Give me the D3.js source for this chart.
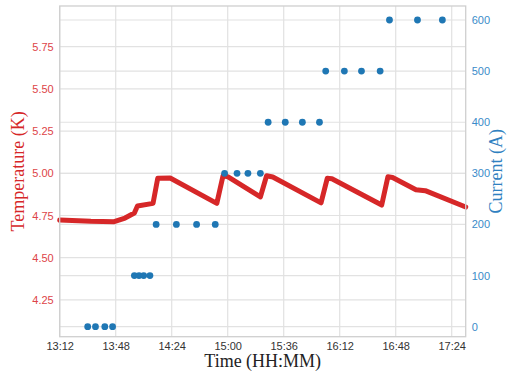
<!DOCTYPE html>
<html>
<head>
<meta charset="utf-8">
<script src="https://cdn.jsdelivr.net/npm/d3@7"></script>
<style>
  body { margin: 0; background: #fff; }
  .tick text { font-family: "Liberation Sans", Arial, sans-serif; font-size: 11px; }
</style>
</head>
<body>
<div id="chart"></div>
<script>
// temperature trace (time, kelvin)
var tempTimes = ["13:12", "13:20", "13:32", "13:47", "13:54", "14:00", "14:02", "14:12", "14:15", "14:23",
                 "14:53", "14:57", "15:00", "15:21", "15:25", "15:29", "16:00", "16:04", "16:07", "16:39",
                 "16:43", "16:46", "17:01", "17:07", "17:33"];
var tempValues = [4.723, 4.721, 4.716, 4.713, 4.735, 4.765, 4.806, 4.822, 4.970, 4.972,
                  4.822, 4.985, 4.980, 4.860, 4.985, 4.978, 4.825, 4.970, 4.968, 4.812,
                  4.980, 4.975, 4.902, 4.897, 4.800];

// current steps (time, amps)
var currentTimes = ["13:30", "13:35", "13:41", "13:46",
                    "14:00", "14:03", "14:06", "14:10",
                    "14:14", "14:27", "14:40", "14:52",
                    "14:58", "15:06", "15:13", "15:21",
                    "15:26", "15:37", "15:48", "15:59",
                    "16:03", "16:15", "16:26", "16:38",
                    "16:44", "17:02", "17:18"];
var currentValues = [0, 0, 0, 0,
                     100, 100, 100, 100,
                     200, 200, 200, 200,
                     300, 300, 300, 300,
                     400, 400, 400, 400,
                     500, 500, 500, 500,
                     600, 600, 600];

var timeTicks = ["13:12", "13:48", "14:24", "15:00", "15:36", "16:12", "16:48", "17:24"];
var tempTicks = [4.25, 4.50, 4.75, 5.00, 5.25, 5.50, 5.75];
var currentTicks = [0, 100, 200, 300, 400, 500, 600];

var parse = d3.timeParse("%H:%M"),
    fmt = d3.timeFormat("%H:%M");

var width = 507,
    height = 373,
    margin = {top: 6, right: 41.3, bottom: 36.3, left: 59.7},
    w = width - margin.left - margin.right,
    h = height - margin.top - margin.bottom;

var red = "#d62728",
    blue = "#1f77b4";

var x = d3.scaleTime()
    .domain([parse("13:12"), parse("17:33")])
    .range([0, w]);

var yT = d3.scaleLinear()
    .domain([4.032, 5.991])
    .range([h, 0]);

var yC = d3.scaleLinear()
    .domain([-19.6, 627.4])
    .range([h, 0]);

var svg = d3.select("#chart").append("svg")
    .attr("width", width)
    .attr("height", height);

var g = svg.append("g")
    .attr("transform", "translate(" + margin.left + "," + margin.top + ")");

// grid lines for both y axes and the time axis
g.append("g")
    .selectAll("line")
    .data(tempTicks)
    .enter().append("line")
    .attr("x1", 0).attr("x2", w)
    .attr("y1", function(d) { return yT(d); })
    .attr("y2", function(d) { return yT(d); })
    .attr("stroke", "#e2e2e2").attr("stroke-width", 1.2);

g.append("g")
    .selectAll("line")
    .data(currentTicks)
    .enter().append("line")
    .attr("x1", 0).attr("x2", w)
    .attr("y1", function(d) { return yC(d); })
    .attr("y2", function(d) { return yC(d); })
    .attr("stroke", "#e2e2e2").attr("stroke-width", 1.2);

g.append("g")
    .selectAll("line")
    .data(timeTicks.map(parse))
    .enter().append("line")
    .attr("y1", 0).attr("y2", h)
    .attr("x1", function(d) { return x(d); })
    .attr("x2", function(d) { return x(d); })
    .attr("stroke", "#e2e2e2").attr("stroke-width", 1.2);

// axes (no tick marks, just labels)
var xAxis = g.append("g")
    .attr("transform", "translate(0," + h + ")")
    .call(d3.axisBottom(x).tickValues(timeTicks.map(parse)).tickFormat(fmt).tickSize(0).tickPadding(6));
xAxis.select(".domain").remove();
xAxis.selectAll("text").attr("fill", "#333");

var leftAxis = g.append("g")
    .call(d3.axisLeft(yT).tickValues(tempTicks).tickFormat(d3.format(".2f")).tickSize(0).tickPadding(6));
leftAxis.select(".domain").remove();
leftAxis.selectAll("text").attr("fill", "#dd4448");

var rightAxis = g.append("g")
    .attr("transform", "translate(" + w + ",0)")
    .call(d3.axisRight(yC).tickValues(currentTicks).tickSize(0).tickPadding(6));
rightAxis.select(".domain").remove();
rightAxis.selectAll("text").attr("fill", "#3a8bc9");

// temperature trace
var line = d3.line()
    .x(function(d) { return x(d.t); })
    .y(function(d) { return yT(d.v); });

var tempData = tempTimes.map(function(t, i) { return {t: parse(t), v: tempValues[i]}; });

g.append("path")
    .datum(tempData)
    .attr("d", line)
    .attr("fill", "none")
    .attr("stroke", red)
    .attr("stroke-width", 5)
    .attr("stroke-linejoin", "round")
    .attr("stroke-linecap", "round");

// current dots
var currentData = currentTimes.map(function(t, i) { return {t: parse(t), v: currentValues[i]}; });

g.append("g")
    .selectAll("circle")
    .data(currentData)
    .enter().append("circle")
    .attr("cx", function(d) { return x(d.t); })
    .attr("cy", function(d) { return yC(d.v); })
    .attr("r", 3.4)
    .attr("fill", blue);

// frame
g.append("rect")
    .attr("width", w).attr("height", h)
    .attr("fill", "none")
    .attr("stroke", "#cfcfcf")
    .attr("stroke-width", 1.3);

// axis titles
svg.append("text")
    .attr("x", margin.left + w / 2)
    .attr("y", 367)
    .attr("text-anchor", "middle")
    .style("font-family", "'Liberation Serif', 'Times New Roman', serif")
    .style("font-size", "18px")
    .attr("fill", "#222")
    .text("Time (HH:MM)");

svg.append("text")
    .attr("transform", "translate(24," + (margin.top + h / 2) + ") rotate(-90)")
    .attr("text-anchor", "middle")
    .style("font-family", "'Liberation Serif', 'Times New Roman', serif")
    .style("font-size", "18px")
    .attr("fill", red)
    .text("Temperature (K)");

svg.append("text")
    .attr("transform", "translate(502," + (margin.top + h / 2) + ") rotate(-90)")
    .attr("text-anchor", "middle")
    .style("font-family", "'Liberation Serif', 'Times New Roman', serif")
    .style("font-size", "18px")
    .attr("fill", "#2f80c0")
    .text("Current (A)");
</script>
</body>
</html>
